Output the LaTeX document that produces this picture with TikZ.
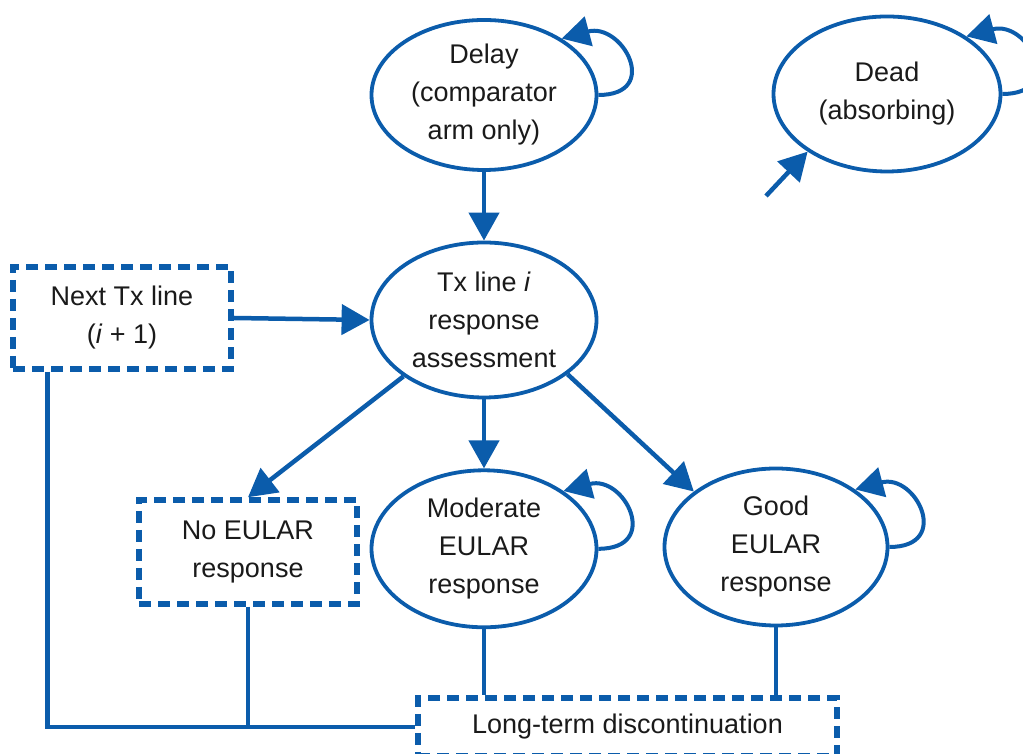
\documentclass[tikz,border=0pt]{standalone}
\usepackage{fontspec}
\setmainfont{Liberation Sans}
\usepackage{tikz}
\usepackage{xcolor}
\usetikzlibrary{arrows.meta,positioning,calc,shapes.geometric}
\definecolor{stateblue}{HTML}{0B5CAB}
\definecolor{textdark}{HTML}{1A1A1A}
\tikzset{
  statenode/.style={
    ellipse,
    draw=stateblue,
    line width=3.8pt,
    align=center,
    inner sep=0pt,
    minimum width=225pt,
    minimum height=155pt,
    text=textdark,
    font=\fontsize{27}{38}\selectfont
  },
  tunnelbox/.style={
    rectangle,
    draw=stateblue,
    line width=5.5pt,
    dash pattern=on 12pt off 7pt,
    align=center,
    inner sep=0pt,
    text=textdark,
    font=\fontsize{27}{38}\selectfont
  },
  statearrow/.style={-{Triangle[length=28pt,width=30pt]}, line width=4.5pt, draw=stateblue},
  stateline/.style={line width=4.5pt, draw=stateblue},
  selfloop/.style={statearrow, line width=4pt, looseness=2.4}
}
\begin{document}
\begin{tikzpicture}[x=1pt,y=1pt]
\useasboundingbox (0,0) rectangle (1023,754);
\node[statenode, minimum height=150pt] (delay) at (484,659) {Delay\\(comparator\\arm only)};
\node[statenode, minimum width=227pt] (dead) at (887,660) {Dead\\(absorbing)};
\node[statenode] (txline) at (484,434) {Tx line \textit{i}\\response\\assessment};
\node[statenode, below=69pt of txline, minimum height=157pt] (moderate) {Moderate\\EULAR\\response};
\node[statenode, minimum width=223pt, minimum height=157pt] (good) at (776,207) {Good\\EULAR\\response};

\node[tunnelbox, minimum width=218pt, minimum height=102pt] (nextline) at (122,436) {Next Tx line\\(\textit{i} + 1)};
\node[tunnelbox, minimum width=218pt, minimum height=104pt] (noeular) at (248,202) {No EULAR\\response};
\node[tunnelbox, minimum width=419pt, minimum height=58pt] (longterm) at (627.5,27) {Long-term discontinuation};
\coordinate (deathin) at (766,558);

\foreach \a/\b in {delay.south/txline.north,txline.south/moderate.north,nextline.east/txline.west,txline.215/noeular.north,txline.327/good.146,deathin/dead.216}
  \draw[statearrow] (\a) -- (\b);

% self transitions
\foreach \s in {delay,moderate,good,dead}
  \draw[selfloop] (\s.east) to[out=0,in=15] (\s.36);

\draw[stateline] ([xshift=37pt]nextline.south west) |- (longterm.west);
\draw[stateline] (noeular.south) -- (noeular.south |- longterm.west);
\draw[stateline] (moderate.south) -- (moderate.south |- longterm.north);
\draw[stateline] (good.south) -- (good.south |- longterm.north);
\end{tikzpicture}
\end{document}
